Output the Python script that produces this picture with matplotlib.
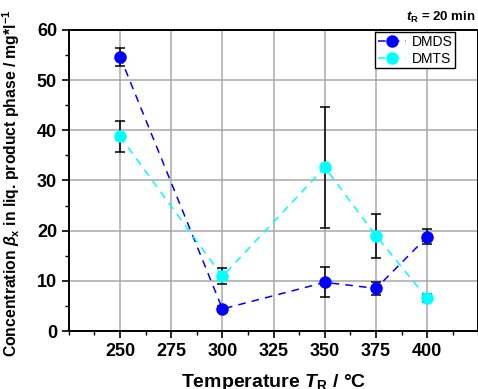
import matplotlib
matplotlib.use('Agg')
from matplotlib import pyplot as plt
from matplotlib.ticker import MultipleLocator
from matplotlib.lines import Line2D
import numpy as np

plt.rcParams['font.family'] = ['Liberation Sans', 'DejaVu Sans']
plt.rcParams['mathtext.fontset'] = 'custom'
plt.rcParams['mathtext.it'] = 'Liberation Sans:italic:bold'
plt.rcParams['mathtext.rm'] = 'Liberation Sans:bold'
plt.rcParams['mathtext.bf'] = 'Liberation Sans:bold'

# reaction temperature / degC
temps = [250, 300, 350, 375, 400]

# DMDS concentration and error
dmds = [54.7, 4.4, 9.7, 8.5, 18.8]
dmds_err = [1.8, 0.5, 3.0, 1.3, 1.5]

# DMTS concentration and error
dmts = [38.8, 10.9, 32.6, 19.0, 6.5]
dmts_err = [3.1, 1.6, 12.1, 4.4, 0.8]

c_dmds = '#0000FF'
c_dmts = '#00FFFF'
dash = (0, (5, 4))

fig = plt.figure(figsize=(4.78, 3.89), dpi=100)
ax = fig.add_axes([0.144, 0.149, 0.857, 0.774])

ax.errorbar(temps, dmds, yerr=dmds_err, color=c_dmds, ls=dash, lw=1.1,
            marker='o', ms=8, ecolor='black', elinewidth=1.1, capsize=3.5,
            capthick=1.1, zorder=3)
ax.errorbar(temps, dmts, yerr=dmts_err, color=c_dmts, ls=dash, lw=1.1,
            marker='o', ms=8, ecolor='black', elinewidth=1.1, capsize=3.5,
            capthick=1.1, zorder=3)

ax.set_xlim(225, 425)
ax.set_ylim(0, 60)
ax.set_xticks([250, 275, 300, 325, 350, 375, 400])
ax.xaxis.set_minor_locator(MultipleLocator(12.5))
ax.yaxis.set_major_locator(MultipleLocator(10))
ax.yaxis.set_minor_locator(MultipleLocator(5))
ax.tick_params(which='major', direction='out', length=5, width=1.2, labelsize=13)
ax.tick_params(which='minor', direction='out', length=3, width=1.0)
for lab in ax.get_xticklabels() + ax.get_yticklabels():
    lab.set_fontweight('bold')

ax.grid(True, which='major', color='#a8a8a8', lw=1.1, zorder=0)
ax.set_axisbelow(True)
for sp in ax.spines.values():
    sp.set_linewidth(1.4)

ax.set_xlabel(r'Temperature $T_\mathrm{R}$ / °C', fontsize=14, fontweight='bold')
ax.xaxis.set_label_coords(0.5, -0.135)
ax.set_ylabel(r'Concentration $\beta_\mathrm{x}$ in liq. product phase / mg*l$^{-1}$',
              fontsize=11.3, fontweight='bold')
ax.yaxis.set_label_coords(-0.115, 0.49)

fig.text(0.995, 0.935, r'$t_\mathrm{R}$ = 20 min', ha='right', va='bottom',
         fontsize=9.5, fontweight='bold')

handles = [Line2D([], [], color=c_dmds, ls=dash, lw=1.1, marker='o', ms=8),
           Line2D([], [], color=c_dmts, ls=dash, lw=1.1, marker='o', ms=8)]
leg = ax.legend(handles, ['DMDS', 'DMTS'], loc='upper right',
                bbox_to_anchor=(0.943, 0.993), fontsize=10,
                fancybox=False, edgecolor='black', framealpha=1,
                borderpad=0.2, handlelength=2.0, handletextpad=0.4,
                labelspacing=0.2, borderaxespad=0)
leg.get_frame().set_linewidth(1.0)

plt.savefig('out.png', dpi=100)
print('done')
